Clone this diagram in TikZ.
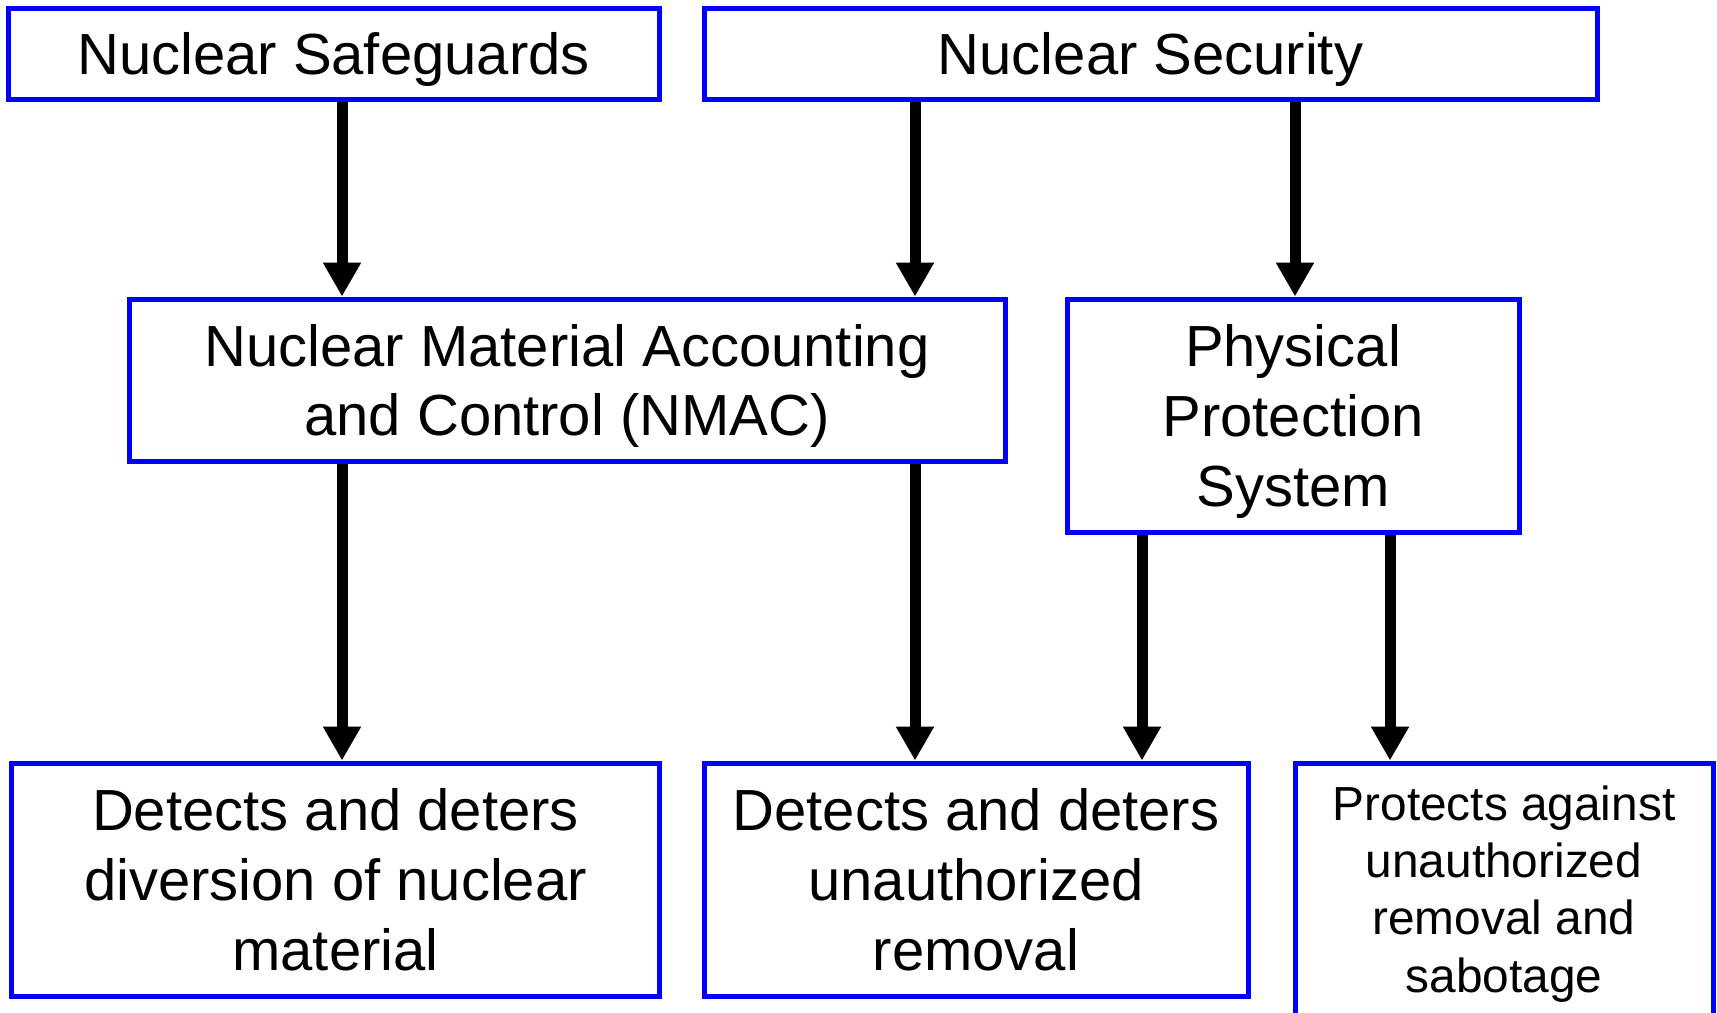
\documentclass[tikz,border=0pt]{standalone}
\usepackage{fontspec}
\setmainfont{Liberation Sans}
\usetikzlibrary{arrows.meta, positioning, calc}

\tikzset{
  % Blue outlined box
  bluebox/.style={
    draw=blue, line width=0.05cm, fill=white,
    inner sep=0pt, align=center, text depth=0pt,
    font=\fontsize{16.5}{19.8}\selectfont
  },
  % Smaller text in a box
  smalltxt/.style={
    font=\fontsize{13.6}{16.3}\selectfont
  },
  % Heavy black arrow
  heavyarrow/.style={
    -{Triangle[width=0.36cm, length=0.34cm]},
    line width=0.11cm, black
  },
}

\begin{document}
\begin{tikzpicture}

\useasboundingbox (0,0) rectangle (17.17,-10.13);
\clip (0,0) rectangle (17.17,-10.13);

% ── Top row ──────────────────────────────────────────────────────────────────
\node[bluebox, minimum width=6.51cm, minimum height=0.91cm]
  (safeguards) at (3.335,-0.535) {Nuclear Safeguards};

\node[bluebox, minimum width=8.93cm, minimum height=0.91cm]
  (security) at (11.505,-0.535) {Nuclear Security};

% ── Middle row ───────────────────────────────────────────────────────────────
\node[bluebox, minimum width=8.76cm, minimum height=1.62cm]
  (nmac) at (5.67,-3.80)
  {Nuclear Material Accounting\\and Control (NMAC)};

\node[bluebox, minimum width=4.52cm, minimum height=2.33cm]
  (pps) at (12.93,-4.155)
  {Physical\\Protection\\System};

% ── Bottom row ───────────────────────────────────────────────────────────────
\node[bluebox, minimum width=6.47cm, minimum height=2.33cm]
  (diversion) at (3.355,-8.795)
  {Detects and deters\\diversion of nuclear\\material};

\node[bluebox, minimum width=5.44cm, minimum height=2.33cm]
  (removal) at (9.76,-8.795)
  {Detects and deters\\unauthorized\\removal};

\node[bluebox, smalltxt, minimum width=4.18cm, minimum height=2.52cm]
  (sabotage) at (15.04,-8.89)
  {Protects against\\unauthorized\\removal and\\sabotage};

% ── Arrow columns ────────────────────────────────────────────────────────────
\coordinate (colA) at (3.42,0);
\coordinate (colB) at (9.15,0);
\coordinate (colC) at (12.95,0);
\coordinate (colD) at (11.42,0);
\coordinate (colE) at (13.90,0);

\draw[heavyarrow] (safeguards.south -| colA) -- (nmac.north -| colA);
\draw[heavyarrow] (security.south -| colB) -- (nmac.north -| colB);
\draw[heavyarrow] (security.south -| colC) -- (pps.north -| colC);

\draw[heavyarrow] (nmac.south -| colA) -- (diversion.north -| colA);
\draw[heavyarrow] (nmac.south -| colB) -- (removal.north -| colB);
\draw[heavyarrow] (pps.south -| colD) -- (removal.north -| colD);
\draw[heavyarrow] (pps.south -| colE) -- (sabotage.north -| colE);

\end{tikzpicture}
\end{document}
